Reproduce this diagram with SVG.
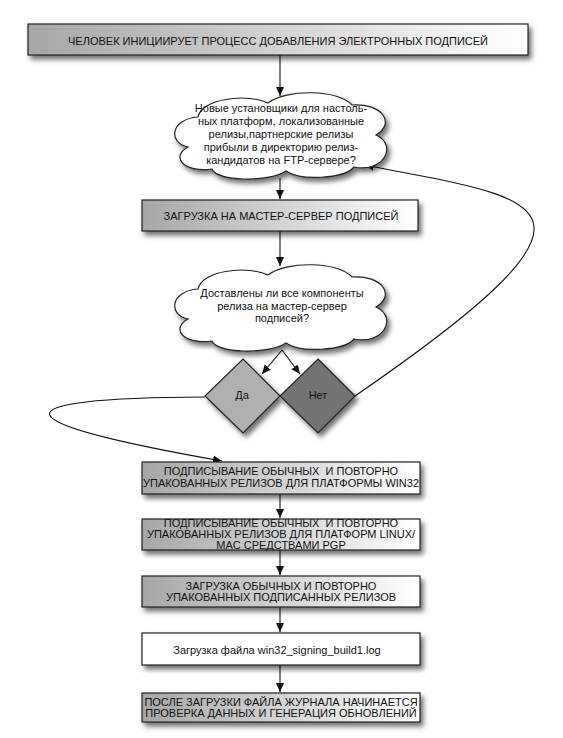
<svg xmlns="http://www.w3.org/2000/svg" xmlns:xlink="http://www.w3.org/1999/xlink" width="563" height="738" viewBox="0 0 563 738">
<style>
.box{stroke:#222;stroke-width:1.2;filter:url(#sh)}
.g{fill:url(#grad)}
.w{fill:#fff}
.t{font-family:"Liberation Sans",Arial,sans-serif;font-size:11px;fill:#111;text-anchor:middle;white-space:pre}
.c{fill:none;stroke:#111;stroke-width:1.1}
</style>
<defs>
<linearGradient id="grad" x1="0" y1="0" x2="1" y2="0">
<stop offset="0" stop-color="#a6a6a6"/>
<stop offset="1" stop-color="#ffffff"/>
</linearGradient>
<filter id="sh" x="-10%" y="-20%" width="130%" height="160%">
<feDropShadow dx="3" dy="4" stdDeviation="2.5" flood-color="#000" flood-opacity="0.55"/>
</filter>
<marker id="ar" markerUnits="userSpaceOnUse" markerWidth="10" markerHeight="10" viewBox="0 0 10 10" refX="9" refY="5" orient="auto">
<path d="M0,1 L9,5 L0,9 Z" fill="#111"/>
</marker>
<path id="cloud" d="M20,56 C0,52 2,28 30,26 C34,8 76,2 100,12 C118,-2 170,-2 184,14 C214,12 228,32 208,44 C230,54 216,82 186,76 C176,88 132,90 118,80 C100,92 48,90 44,78 C16,82 2,66 20,56 Z"/>
</defs>
<rect width="563" height="738" fill="#fff"/>

<g id="connectors">
<line class="c" x1="280" y1="55" x2="280" y2="96" marker-end="url(#ar)"/>
<line class="c" x1="280" y1="178" x2="280" y2="199" marker-end="url(#ar)"/>
<line class="c" x1="280" y1="231" x2="280" y2="266" marker-end="url(#ar)"/>
<line class="c" x1="282" y1="350" x2="262" y2="374" marker-end="url(#ar)"/>
<line class="c" x1="282" y1="350" x2="300" y2="374" marker-end="url(#ar)"/>
<path class="c" d="M205,397 C-10,398 0,422 222,461" marker-end="url(#ar)"/>
<path class="c" d="M355,396 C640,200 540,200 365,165" marker-end="url(#ar)"/>
<line class="c" x1="280" y1="494" x2="280" y2="518" marker-end="url(#ar)"/>
<line class="c" x1="280" y1="550" x2="280" y2="575" marker-end="url(#ar)"/>
<line class="c" x1="280" y1="607" x2="280" y2="632" marker-end="url(#ar)"/>
<line class="c" x1="280" y1="665" x2="280" y2="692" marker-end="url(#ar)"/>
</g>

<g id="n1">
<rect class="box g" x="28" y="24" width="500" height="31"/>
<text class="t" x="278" y="45">ЧЕЛОВЕК ИНИЦИИРУЕТ ПРОЦЕСС ДОБАВЛЕНИЯ ЭЛЕКТРОННЫХ ПОДПИСЕЙ</text>
</g>

<g id="n2">
<use xlink:href="#cloud" transform="translate(168,91)" class="box w"/>
<text class="t" x="281"><tspan x="281" y="112">Новые установщики для настоль-</tspan><tspan x="281" y="125">ных платформ, локализованные</tspan><tspan x="281" y="138">релизы,партнерские релизы</tspan><tspan x="281" y="151">прибыли в директорию релиз-</tspan><tspan x="281" y="164">кандидатов на FTP-сервере?</tspan></text>
</g>

<g id="n3">
<rect class="box g" x="142" y="200" width="276" height="31"/>
<text class="t" x="281" y="220">ЗАГРУЗКА НА МАСТЕР-СЕРВЕР ПОДПИСЕЙ</text>
</g>

<g id="n4">
<use xlink:href="#cloud" transform="translate(168,263)" class="box w"/>
<text class="t"><tspan x="282" y="297">Доставлены ли все компоненты</tspan><tspan x="282" y="310">релиза на мастер-сервер</tspan><tspan x="282" y="322">подписей?</tspan></text>
</g>

<g id="n5">
<polygon class="box" points="243,359 280,396 243,433 205,396" fill="#b0b0b0"/>
<text class="t" x="242" y="399">Да</text>
</g>

<g id="n6">
<polygon class="box" points="318,359 355,396 318,433 280,396" fill="#737373"/>
<text class="t" x="318" y="399">Нет</text>
</g>

<g id="n7">
<rect class="box g" x="142" y="462" width="278" height="32"/>
<text class="t" xml:space="preserve"><tspan x="281" y="475">ПОДПИСЫВАНИЕ ОБЫЧНЫХ  И ПОВТОРНО</tspan><tspan x="281" y="487">УПАКОВАННЫХ РЕЛИЗОВ ДЛЯ ПЛАТФОРМЫ WIN32</tspan></text>
</g>

<g id="n8">
<rect class="box g" x="142" y="519" width="278" height="31"/>
<text class="t" xml:space="preserve"><tspan x="281" y="527">ПОДПИСЫВАНИЕ ОБЫЧНЫХ  И ПОВТОРНО</tspan><tspan x="281" y="538">УПАКОВАННЫХ РЕЛИЗОВ ДЛЯ ПЛАТФОРМ LINUX/</tspan><tspan x="281" y="549">MAC СРЕДСТВАМИ PGP</tspan></text>
</g>

<g id="n9">
<rect class="box g" x="142" y="576" width="278" height="31"/>
<text class="t"><tspan x="281" y="590">ЗАГРУЗКА ОБЫЧНЫХ И ПОВТОРНО</tspan><tspan x="281" y="601">УПАКОВАННЫХ ПОДПИСАННЫХ РЕЛИЗОВ</tspan></text>
</g>

<g id="n10">
<rect class="box w" x="142" y="633" width="278" height="32"/>
<text class="t" x="277" y="654">Загрузка файла win32_signing_build1.log</text>
</g>

<g id="n11">
<rect class="box g" x="142" y="693" width="278" height="29"/>
<text class="t"><tspan x="281" y="706">ПОСЛЕ ЗАГРУЗКИ ФАЙЛА ЖУРНАЛА НАЧИНАЕТСЯ</tspan><tspan x="281" y="717">ПРОВЕРКА ДАННЫХ И ГЕНЕРАЦИЯ ОБНОВЛЕНИЙ</tspan></text>
</g>
</svg>
